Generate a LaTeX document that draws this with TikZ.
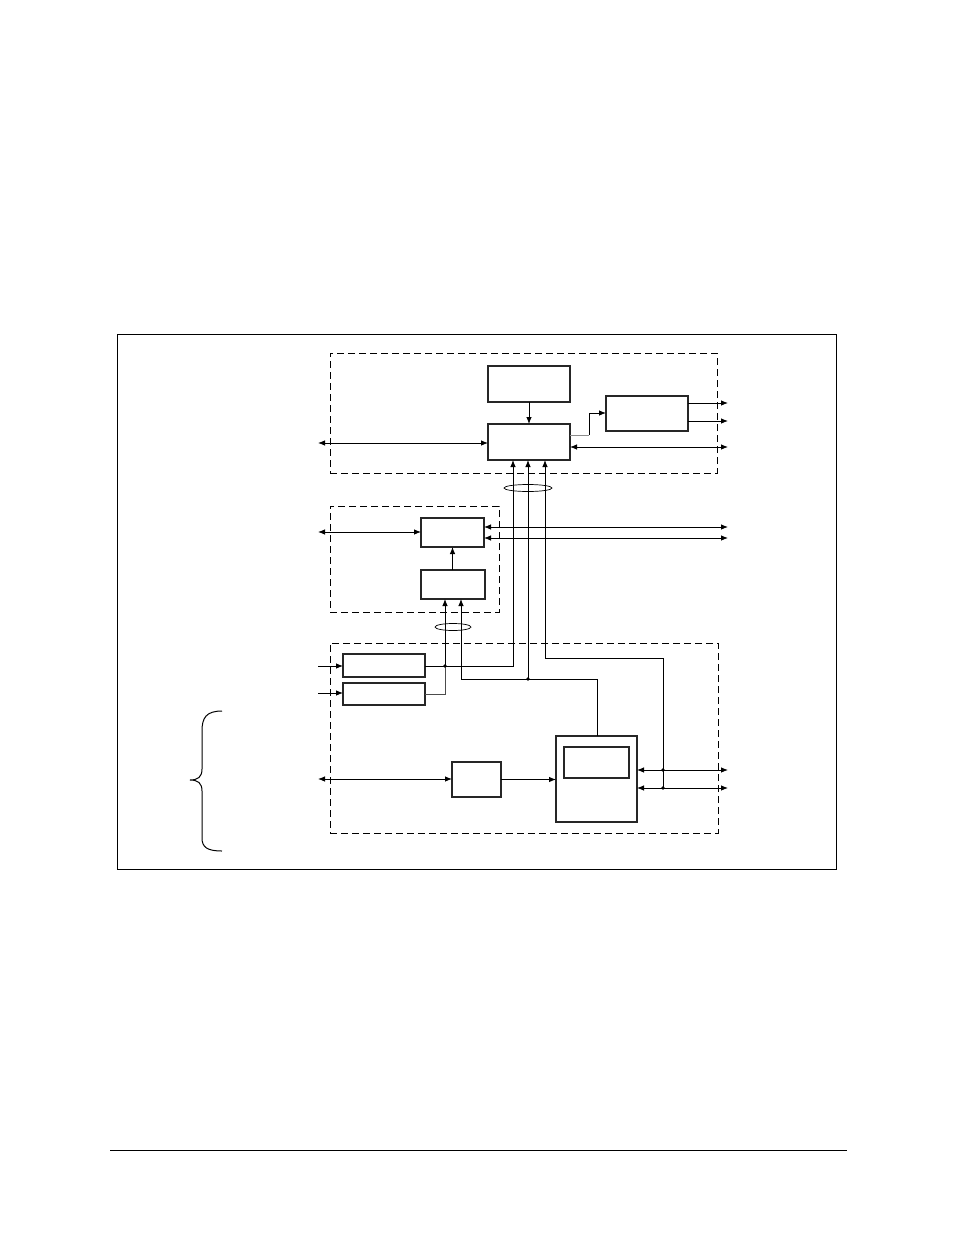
\documentclass[tikz,border=0pt]{standalone}
\usetikzlibrary{arrows.meta,shapes.geometric}
\begin{document}
\begin{tikzpicture}[x=1pt,y=-1pt,
  box/.style={draw=black!85,line width=1.3pt,inner sep=0pt,outer sep=0pt},
  group/.style={draw,line width=0.9pt,dash pattern=on 7pt off 4pt,inner sep=0pt,outer sep=0pt},
  conn/.style={line width=0.85pt},
  arr/.style={conn,-{Latex[length=7pt,width=5.5pt]}},
  barr/.style={conn,{Latex[length=7pt,width=5.5pt]}-{Latex[length=7pt,width=5.5pt]}},
  dot/.style={circle,fill,inner sep=0pt,minimum size=3.6pt},
  ring/.style={draw,ellipse,line width=0.7pt,inner sep=0pt}]
\useasboundingbox (0,0) rectangle (954,1235);
\fill[white] (0,0) rectangle (954,1235);
% outer frame and footer rule
\node[draw,line width=0.8pt,inner sep=0pt,minimum width=719pt,minimum height=535pt] (frame) at (476.5,601.5) {};
\coordinate (rl) at (110,1150);
\coordinate (rr) at (847,1150);
\draw[line width=1pt] (rl) -- (rr);
% dashed groups
\node[group,minimum width=387pt,minimum height=120pt] (g1) at (523.5,413) {};
\node[group,minimum width=169pt,minimum height=106pt] (g2) at (414.5,559) {};
\node[group,minimum width=388pt,minimum height=190pt] (g3) at (524,738) {};
% blocks
\node[box,minimum width=82pt,minimum height=36pt] (A) at (529,384) {};
\node[box,minimum width=82pt,minimum height=36pt] (B) at (529,442) {};
\node[box,minimum width=82pt,minimum height=35pt] (C) at (647,413.5) {};
\node[box,minimum width=63pt,minimum height=29pt] (D) at (452.5,532.5) {};
\node[box,minimum width=64pt,minimum height=29pt] (E) at (453,584.5) {};
\node[box,minimum width=82pt,minimum height=23pt] (F) at (384,665.5) {};
\node[box,minimum width=82pt,minimum height=22pt] (G) at (384,694) {};
\node[box,minimum width=81pt,minimum height=86pt] (H) at (596.5,779) {};
\node[box,minimum width=65pt,minimum height=31pt] (Hin) at (596.5,762.5) {};
\node[box,minimum width=49pt,minimum height=35pt] (I) at (476.5,779.5) {};
% free ends
\coordinate (lB) at (318,443);
\coordinate (lD) at (318,532);
\coordinate (lF) at (318,666);
\coordinate (lG) at (318,693);
\coordinate (lI) at (318,779);
\coordinate (rC1) at (728,403);
\coordinate (rC2) at (728,421);
\coordinate (rB) at (728,447);
\coordinate (rD1) at (728,527);
\coordinate (rD2) at (728,538);
\coordinate (rH1) at (728,770);
\coordinate (rH2) at (728,788);
% bends and junctions
\coordinate (bc1) at (589,435);
\coordinate (bc2) at (589,413);
\coordinate (v1) at (513,666);
\coordinate (v2) at (528,679);
\coordinate (v3) at (545,658);
\coordinate (w1) at (445,666);
\coordinate (w2) at (461,679);
\coordinate (gh) at (445,694);
\coordinate (hk) at (597,679);
\coordinate (vr) at (663,658);
\coordinate (j1) at (663,770);
\coordinate (j2) at (663,788);
% top group
\draw[arr] (A) -- (B);
\draw[barr] (lB) -- (lB -| B.west);
\draw[conn,black!45] (B.east |- bc1) -- (bc1);
\draw[arr] (bc1) -- (bc2) -- (bc2 -| C.west);
\draw[arr] (C.east |- rC1) -- (rC1);
\draw[arr] (C.east |- rC2) -- (rC2);
\draw[barr] (B.east |- rB) -- (rB);
% three lines up into B
\draw[arr] (F.east |- v1) -- (v1) -- (v1 |- B.south);
\draw[conn] (w2) -- (hk) -- (hk |- H.north);
\draw[arr] (v2) -- (v2 |- B.south);
\draw[arr] (j2) -- (vr) -- (v3) -- (v3 |- B.south);
\node[ring,minimum width=48pt,minimum height=7pt] (e1) at (528,488) {};
% middle group
\draw[barr] (lD) -- (lD -| D.west);
\draw[barr] (D.east |- rD1) -- (rD1);
\draw[barr] (D.east |- rD2) -- (rD2);
\draw[arr] (E.north -| D.south) -- (D.south);
\draw[arr] (w1) -- (w1 |- E.south);
\draw[arr] (w2) -- (w2 |- E.south);
\node[ring,minimum width=36pt,minimum height=7pt] (e2) at (453,627) {};
% bottom group
\draw[arr] (lF) -- (lF -| F.west);
\draw[arr] (lG) -- (lG -| G.west);
\draw[conn,black!70] (G.east |- gh) -- (gh) -- (w1);
\draw[barr] (lI) -- (lI -| I.west);
\draw[arr] (I) -- (I -| H.west);
\draw[barr] (H.east |- rH1) -- (rH1);
\draw[barr] (H.east |- rH2) -- (rH2);
\node[dot] (d1) at (w1) {};
\node[dot] (d2) at (v2) {};
\node[dot] (d3) at (j1) {};
\node[dot] (d4) at (j2) {};
% brace
\coordinate (bt) at (222,711);
\coordinate (bb) at (222,851);
\coordinate (btip) at (190,780);
\draw[line width=1pt] (bt) .. controls (206,711) and (202,718) .. (202,731) -- (202,769)
  .. controls (202,777) and (198,780) .. (btip)
  .. controls (198,780) and (202,783) .. (202,791) -- (202,838)
  .. controls (202,847) and (207,851) .. (bb);
\end{tikzpicture}
\end{document}
